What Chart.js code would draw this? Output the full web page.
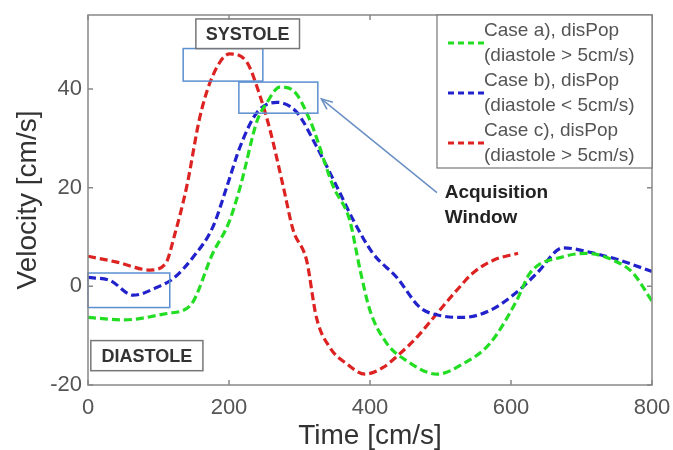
<!DOCTYPE html>
<html>
<head>
<meta charset="utf-8">
<script src="https://cdn.jsdelivr.net/npm/chart.js@4.4.0/dist/chart.umd.min.js"></script>
<style>
  html, body { margin: 0; padding: 0; background: #fff; }
  #wrap { width: 673px; height: 450px; }
</style>
</head>
<body>
<div id="wrap"><canvas id="chart"></canvas></div>
<script>
// data
const seriesLabels = [
  ['Case a), disPop', '(diastole > 5cm/s)'],
  ['Case b), disPop', '(diastole < 5cm/s)'],
  ['Case c), disPop', '(diastole > 5cm/s)']
];
const seriesColors = ['#22dd22', '#2222cc', '#dd2222'];

const timeA = [0, 50, 112, 145, 177, 200, 216, 240, 254, 272, 291, 315, 348, 371, 386, 400, 424, 452, 495, 532, 570, 608, 627, 674, 707, 745, 773, 800];
const velA  = [-6.3, -6.8, -5.5, -3.9, 6.7, 13, 20.2, 33.6, 37.3, 40.4, 39.7, 33.6, 20.2, 13.5, 3.3, -4.9, -11.6, -15.1, -17.8, -15.7, -11.6, -2.9, 2.7, 6, 6.7, 5.3, 2.7, -3];

const timeB = [0, 31, 64, 98, 121, 149, 177, 197, 216, 240, 268, 296, 324, 353, 376, 404, 438, 471, 499, 532, 570, 608, 637, 674, 712, 754, 800];
const velB  = [1.8, 1.2, -1.8, -0.2, 1.6, 5.9, 12, 20.2, 28.4, 35.3, 37.3, 35.3, 28.4, 20.2, 13.5, 6.7, 1.8, -4.3, -5.9, -6.3, -4.9, -1.2, 2.7, 7.8, 6.9, 5.3, 3];

const timeC = [0, 41, 88, 110, 123, 140, 159, 177, 201, 225, 244, 258, 277, 291, 310, 324, 343, 367, 393, 418, 442, 466, 495, 523, 546, 575, 610];
const velC  = [6.1, 4.9, 3.3, 4.6, 10.5, 20.2, 34.5, 42.7, 47.1, 45.5, 38.6, 31.8, 20.2, 11.4, 5.3, -6.3, -12.4, -15.7, -17.8, -16.5, -13.7, -10.4, -5.5, -0.8, 2.7, 5.3, 6.7];

const xTicks = [0, 200, 400, 600, 800];
const yTicks = [-20, 0, 20, 40];

// annotation boxes in data units: [x0, x1, y0, y1]
const windowBoxes = [[135, 248, 41.6, 48.2], [214, 326, 35.1, 41.4], [0, 116, -4.3, 2.7]];

const toPoints = (xs, ys) => xs.map((x, i) => ({ x: x, y: ys[i] }));
const allTimes = [timeA, timeB, timeC];
const allVels = [velA, velB, velC];

const FONT = '"Liberation Sans", Arial, sans-serif';

const overlay = {
  id: 'overlay',
  afterDatasetsDraw(chart) {
    const { ctx, chartArea: a, scales: { x, y } } = chart;
    ctx.save();

    // window boxes
    ctx.strokeStyle = '#5b8fd0';
    ctx.lineWidth = 1.5;
    windowBoxes.forEach(b => {
      const x0 = x.getPixelForValue(b[0]), x1 = x.getPixelForValue(b[1]);
      const y0 = y.getPixelForValue(b[3]), y1 = y.getPixelForValue(b[2]);
      ctx.strokeRect(x0, y0, x1 - x0, y1 - y0);
    });

    // arrow to acquisition window
    const ax0 = x.getPixelForValue(495), ay0 = y.getPixelForValue(19);
    const ax1 = x.getPixelForValue(331), ay1 = y.getPixelForValue(38);
    ctx.strokeStyle = '#6a8fc4';
    ctx.lineWidth = 1.5;
    ctx.beginPath();
    ctx.moveTo(ax0, ay0);
    ctx.lineTo(ax1, ay1);
    ctx.stroke();
    const ang = Math.atan2(ay1 - ay0, ax1 - ax0);
    ctx.beginPath();
    ctx.moveTo(ax1 - 12 * Math.cos(ang - 0.4), ay1 - 12 * Math.sin(ang - 0.4));
    ctx.lineTo(ax1, ay1);
    ctx.lineTo(ax1 - 12 * Math.cos(ang + 0.4), ay1 - 12 * Math.sin(ang + 0.4));
    ctx.stroke();

    // label boxes
    const labelBox = (txt, bx0, bx1, by0, by1) => {
      const px0 = x.getPixelForValue(bx0), px1 = x.getPixelForValue(bx1);
      const py0 = y.getPixelForValue(by1), py1 = y.getPixelForValue(by0);
      ctx.fillStyle = '#fff';
      ctx.fillRect(px0, py0, px1 - px0, py1 - py0);
      ctx.strokeStyle = '#777';
      ctx.lineWidth = 1.5;
      ctx.strokeRect(px0, py0, px1 - px0, py1 - py0);
      ctx.fillStyle = '#333';
      ctx.font = 'bold 18px ' + FONT;
      ctx.textAlign = 'center';
      ctx.textBaseline = 'middle';
      ctx.fillText(txt, (px0 + px1) / 2, (py0 + py1) / 2 + 1);
    };
    labelBox('SYSTOLE', 153, 300, 48.2, 54.2);
    labelBox('DIASTOLE', 4, 163, -17.1, -11);

    ctx.fillStyle = '#222';
    ctx.font = 'bold 19px ' + FONT;
    ctx.textAlign = 'left';
    ctx.textBaseline = 'middle';
    ctx.fillText('Acquisition', x.getPixelForValue(506), y.getPixelForValue(19));
    ctx.fillText('Window', x.getPixelForValue(506), y.getPixelForValue(13.9));

    // frame and inward ticks
    ctx.strokeStyle = '#888';
    ctx.lineWidth = 1.5;
    ctx.strokeRect(a.left, a.top, a.right - a.left, a.bottom - a.top);
    ctx.beginPath();
    xTicks.forEach(v => {
      const px = x.getPixelForValue(v);
      ctx.moveTo(px, a.bottom); ctx.lineTo(px, a.bottom - 5);
      ctx.moveTo(px, a.top); ctx.lineTo(px, a.top + 5);
    });
    yTicks.forEach(v => {
      const py = y.getPixelForValue(v);
      ctx.moveTo(a.left, py); ctx.lineTo(a.left + 5, py);
      ctx.moveTo(a.right, py); ctx.lineTo(a.right - 5, py);
    });
    ctx.stroke();

    // legend
    const lx = 437, ly = a.top, lw = a.right - 437, lh = 153;
    ctx.fillStyle = '#fff';
    ctx.fillRect(lx, ly, lw, lh);
    ctx.strokeStyle = '#777';
    ctx.lineWidth = 1.2;
    ctx.strokeRect(lx, ly, lw, lh);
    ctx.font = '19px ' + FONT;
    ctx.textBaseline = 'middle';
    seriesLabels.forEach((lab, i) => {
      const top = ly + 16 + i * 50;
      ctx.fillStyle = '#555';
      ctx.fillText(lab[0], 484, top);
      ctx.fillText(lab[1], 484, top + 25);
      ctx.strokeStyle = seriesColors[i];
      ctx.lineWidth = 3;
      ctx.setLineDash([6, 4]);
      ctx.beginPath();
      ctx.moveTo(448, top + 12);
      ctx.lineTo(484, top + 12);
      ctx.stroke();
      ctx.setLineDash([]);
    });

    ctx.restore();
  }
};

new Chart(document.getElementById('chart'), {
  type: 'line',
  data: {
    datasets: allTimes.map((xs, i) => ({
      label: seriesLabels[i].join(' '),
      data: toPoints(xs, allVels[i]),
      borderColor: seriesColors[i],
      borderWidth: 3.2,
      borderDash: [8, 4],
      pointRadius: 0,
      fill: false,
      tension: 0.4,
      cubicInterpolationMode: 'monotone'
    }))
  },
  options: {
    responsive: true,
    maintainAspectRatio: false,
    animation: false,
    layout: { padding: { top: 15, right: 21, left: 0, bottom: 0 } },
    plugins: { legend: { display: false }, tooltip: { enabled: false } },
    scales: {
      x: {
        type: 'linear', min: 0, max: 800,
        afterBuildTicks: s => { s.ticks = xTicks.map(v => ({ value: v })); },
        afterFit: s => { s.height = 65; s.paddingRight = 0; s.paddingLeft = 0; },
        grid: { display: false, drawTicks: false },
        border: { display: false },
        ticks: { color: '#555', font: { family: FONT, size: 22 }, padding: 10 },
        title: { display: true, text: 'Time [cm/s]', color: '#333', font: { family: FONT, size: 28, lineHeight: 1 }, padding: { top: 0, bottom: 0 } }
      },
      y: {
        min: -20, max: 55,
        afterBuildTicks: s => { s.ticks = yTicks.map(v => ({ value: v })); },
        afterFit: s => { s.width = 88; s.paddingTop = 0; },
        grid: { display: false, drawTicks: false },
        border: { display: false },
        ticks: { color: '#555', font: { family: FONT, size: 22 }, padding: 6 },
        title: { display: true, text: 'Velocity [cm/s]', color: '#333', font: { family: FONT, size: 28, lineHeight: 1 }, padding: { top: 14, bottom: 0 } }
      }
    }
  },
  plugins: [overlay]
});
</script>
</body>
</html>
